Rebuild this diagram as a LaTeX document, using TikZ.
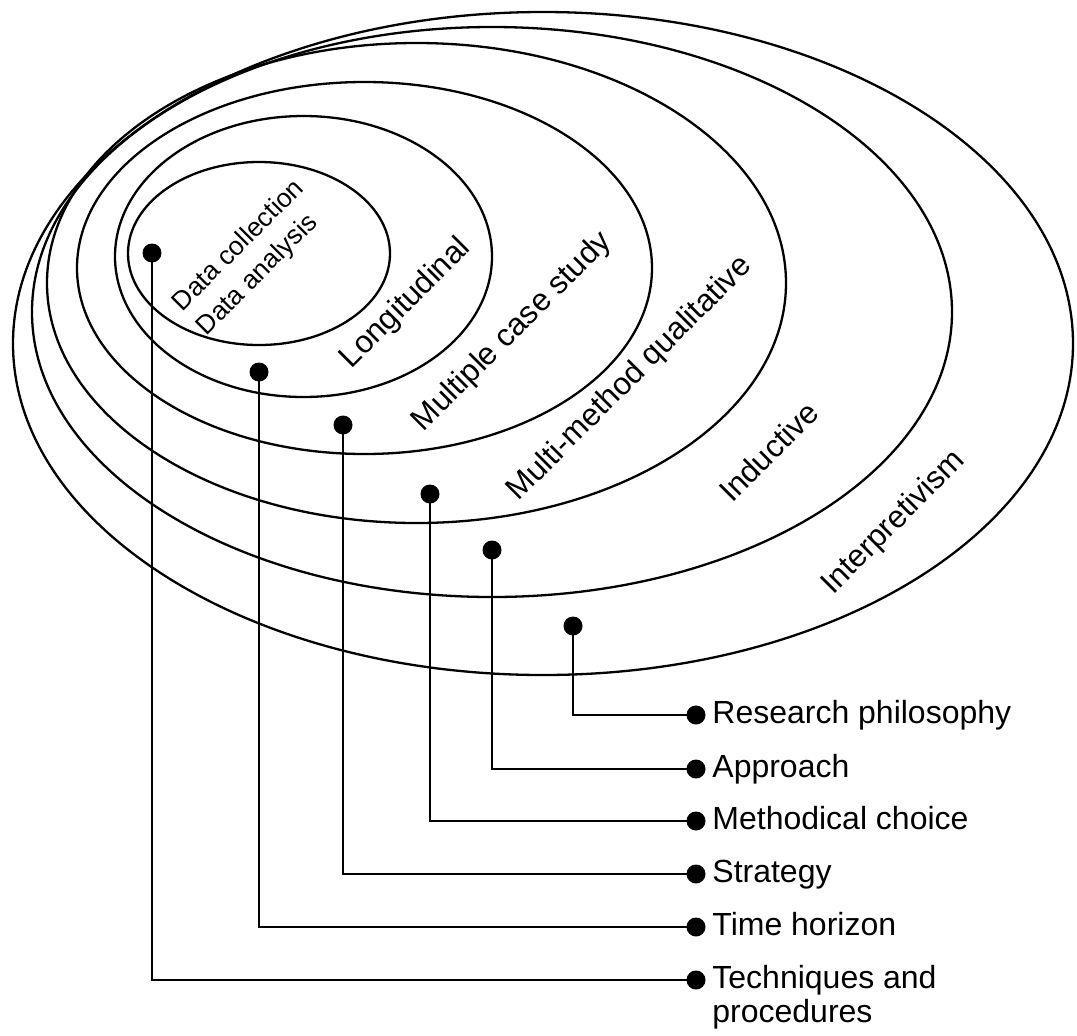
\documentclass[tikz,border=0pt]{standalone}
\usepackage{fontspec}
\setmainfont{Liberation Sans}
\begin{document}
\begin{tikzpicture}[x=0.5pt,y=-0.5pt,
  ring/.style={line width=1.15pt},
  dot/.style={circle,fill=black,inner sep=0pt,minimum size=9.5pt},
  link/.style={line width=1pt},
  layer/.style={font=\fontsize{15.7}{17}\selectfont,rotate=45,inner sep=0pt},
  item/.style={font=\fontsize{16}{17}\selectfont,anchor=base west,align=left,inner sep=0pt}]
\useasboundingbox (0,0) rectangle (1077,1035);

% nested layers of the onion, outermost first
\draw[ring] (543,343.5) ellipse [x radius=265pt,   y radius=165.75pt];
\draw[ring] (492,312)   ellipse [x radius=230pt,   y radius=142.5pt];
\draw[ring] (416.5,283) ellipse [x radius=184.75pt,y radius=120pt];
\draw[ring] (364.5,268) ellipse [x radius=143.75pt,y radius=93pt];
\draw[ring] (303.5,256.5) ellipse [x radius=94.25pt,y radius=70.25pt];
\draw[ring] (259,253.5) ellipse [x radius=65.5pt,  y radius=45.75pt];

% layer names
\node[layer] (lInt)  at (894,523)   {Interpretivism};
\node[layer] (lInd)  at (768.5,451.5) {Inductive};
\node[layer] (lMm)   at (630,379)   {Multi-method qualitative};
\node[layer] (lMcs)  at (512.5,332) {Multiple case study};
\node[layer] (lLong) at (406,303.5) {Longitudinal};
\node[layer,font=\fontsize{13.2}{17}\selectfont,align=left] (lCore) at (251,258)
  {Data collection\\Data analysis};

% markers inside the layers
\node[dot] (d1) at (152,253) {};
\node[dot] (d2) at (259,372) {};
\node[dot] (d3) at (343,425) {};
\node[dot] (d4) at (430,494) {};
\node[dot] (d5) at (492,550) {};
\node[dot] (d6) at (573,626) {};

% markers of the legend
\node[dot] (r6) at (696,715) {};
\node[dot] (r5) at (696,769) {};
\node[dot] (r4) at (696,821) {};
\node[dot] (r3) at (696,874) {};
\node[dot] (r2) at (696,927) {};
\node[dot] (r1) at (696,980) {};

% legend texts (a two-line text sits on its last baseline)
\node[item] (t6) at (712,723) {Research philosophy};
\node[item] (t5) at (712,777) {Approach};
\node[item] (t4) at (712,829) {Methodical choice};
\node[item] (t3) at (712,882) {Strategy};
\node[item] (t2) at (712,935) {Time horizon};
\node[item] (t1) at (712,1022) {Techniques and\\procedures};

% leader lines
\draw[link] (d6.center) |- (r6.center);
\draw[link] (d5.center) |- (r5.center);
\draw[link] (d4.center) |- (r4.center);
\draw[link] (d3.center) |- (r3.center);
\draw[link] (d2.center) |- (r2.center);
\draw[link] (d1.center) |- (r1.center);
\end{tikzpicture}
\end{document}
